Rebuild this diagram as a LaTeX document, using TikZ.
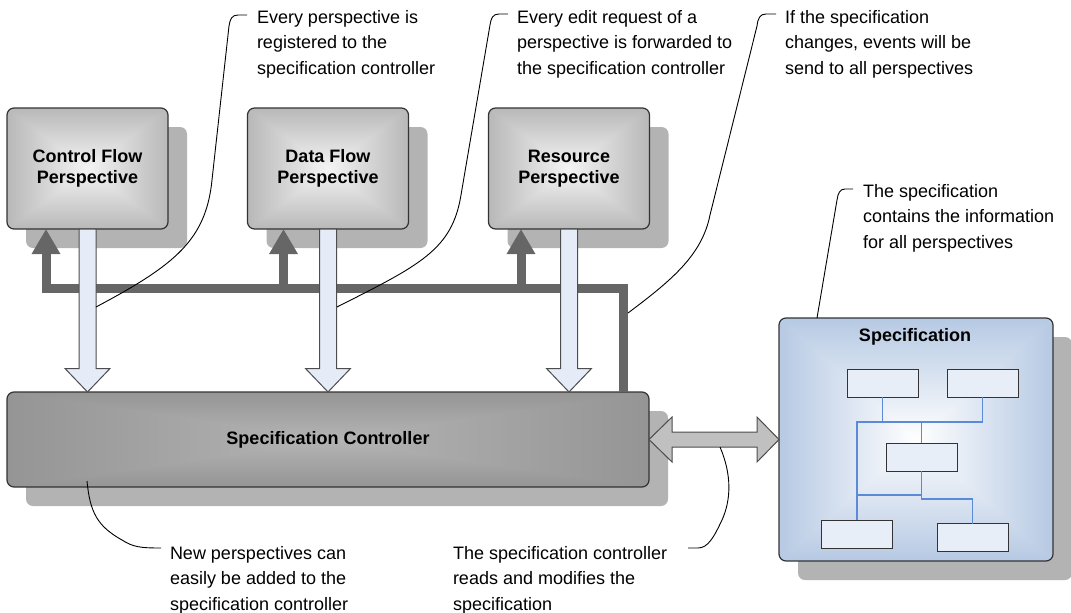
\documentclass[tikz,border=0pt]{standalone}
\usepackage{fontspec}
\setmainfont{Liberation Sans}
\usetikzlibrary{calc,shadows,arrows.meta}

\definecolor{shadowgray}{HTML}{B3B3B3}
\definecolor{busgray}{HTML}{666666}
\definecolor{feedfill}{HTML}{E6ECF7}
\definecolor{edgegray}{HTML}{333333}
\definecolor{arrowedge}{HTML}{4D4D4D}
\definecolor{wireblue}{HTML}{5B8BD6}
\definecolor{innerfill}{HTML}{E8EEF8}
\definecolor{dblfill}{HTML}{C0C0C0}

% rectangular glow: colour depends on max(|dx|,|dy|) from the centre
\pgfdeclarefunctionalshading{perspglow}{\pgfpointorigin}{\pgfpoint{100bp}{100bp}}{}{
  50 sub abs exch 50 sub abs
  2 copy lt {exch} if pop
  25 div dup 1 gt {pop 1} if
  -0.235 mul 0.957 add dup dup
}
\pgfdeclarefunctionalshading{ctlglow}{\pgfpointorigin}{\pgfpoint{100bp}{100bp}}{}{
  50 sub abs exch 50 sub abs
  2 copy lt {exch} if pop
  25 div dup 1 gt {pop 1} if
  -0.122 mul 0.706 add dup dup
}
\pgfdeclarefunctionalshading{specglow}{\pgfpointorigin}{\pgfpoint{100bp}{100bp}}{}{
  50 sub abs exch 50 sub abs
  2 copy lt {exch} if pop
  25 div dup 1 gt {pop 1} if
  dup dup
  -0.286 mul 1 add
  3 1 roll
  -0.212 mul 1 add
  exch
  -0.110 mul 1 add
}

\newcommand\calloutfont{\fontsize{18}{25.5}\selectfont}
\newcommand\boxfont{\fontsize{18}{21}\selectfont\bfseries}

% fat downward feed arrow from a perspective to the controller
\newcommand\feedarrow[2]{%
  \filldraw[feed] let \p1=(#1.south), \p2=(#2.north) in
    (\x1-8.5pt,\y1) -- (\x1-8.5pt,\y2+23.5pt) -- (\x1-22.5pt,\y2+23.5pt)
    -- (\x1,\y2) -- (\x1+22.5pt,\y2+23.5pt) -- (\x1+8.5pt,\y2+23.5pt)
    -- (\x1+8.5pt,\y1) -- cycle;}

\tikzset{
  boxshadow/.style={general shadow={fill=shadowgray, shadow xshift=19pt, shadow yshift=-19pt}},
  persp/.style={draw=edgegray, line width=1.2pt, rounded corners=7pt, shade, shading=perspglow,
    minimum width=161pt, minimum height=121pt, inner sep=0pt, outer sep=0pt,
    align=center, font=\boxfont, boxshadow},
  ctlbox/.style={draw=edgegray, line width=1.2pt, rounded corners=7pt, shade, shading=ctlglow,
    minimum width=642pt, minimum height=95pt, inner sep=0pt, outer sep=0pt,
    font=\boxfont, boxshadow},
  specbox/.style={draw=edgegray, line width=1.2pt, rounded corners=7pt, shade, shading=specglow,
    minimum width=274pt, minimum height=243pt, inner sep=0pt, outer sep=0pt, boxshadow},
  item/.style={draw=edgegray, fill=innerfill, line width=1pt, minimum width=71pt,
    minimum height=28pt, inner sep=0pt, outer sep=0pt},
  wire/.style={draw=wireblue, line width=1.3pt},
  feed/.style={fill=feedfill, draw=arrowedge, line width=1pt, line join=miter},
  bus/.style={draw=busgray, line width=9pt, -{Triangle[width=27pt,length=25pt]}},
  dblarrow/.style={fill=dblfill, draw=arrowedge, line width=1pt, line join=miter},
  callout/.style={draw=black, line width=0.9pt},
  note/.style={anchor=north west, inner sep=0pt, outer sep=0pt, align=left, font=\calloutfont}
}

\begin{document}
\begin{tikzpicture}[x=1pt,y=-1pt]
\useasboundingbox (0,0) rectangle (1071,613);

% perspectives
\node[persp] (cf) at (87.5,168.5) {Control Flow\\Perspective};
\node[persp] (df) at (328,168.5) {Data Flow\\Perspective};
\node[persp] (rp) at (569,168.5) {Resource\\Perspective};

% controller
\node[ctlbox] (ctl) at (328,439.5) {Specification Controller};

% specification with its inner structure
\node[specbox] (spec) at (916,439.5) {};
\node[font=\boxfont, inner sep=0pt] (spectitle) at (915,337) {Specification};
\node[item] (sb1) at (882.5,383) {};
\node[item] (sb2) at (982.5,383) {};
\node[item] (sb3) at (921.5,457) {};
\node[item] (sb4) at (857,534) {};
\node[item] (sb5) at (972.5,537.5) {};
\coordinate (ya) at (0,422);
\coordinate (yb) at (0,495);
\coordinate (yc) at (0,499);
\draw[wire] (sb1.south) -- (sb1.south |- ya);
\draw[wire] (sb2.south) -- (sb2.south |- ya) -- (sb4.north |- ya) -- (sb4.north);
\draw[wire] (sb3.north) -- (sb3.north |- ya);
\draw[wire] (sb3.south) -- (sb3.south |- yc) -- (sb5.north |- yc) -- (sb5.north);
\draw[wire] (sb3.south |- yb) -- (sb4.north |- yb);

% event bus from the controller back to every perspective
\coordinate (busknee) at (623.5,288.5);
\coordinate (cfin) at ($(cf.south west)+(39,0)$);
\coordinate (dfin) at ($(df.south west)+(36,0)$);
\coordinate (rpin) at ($(rp.south west)+(32.5,0)$);
\draw[bus] (busknee |- ctl.north) -- (busknee) -| (cfin);
\draw[bus] (dfin |- busknee) -- (dfin);
\draw[bus] (rpin |- busknee) -- (rpin);

% edit requests forwarded to the controller
\feedarrow{cf}{ctl}
\feedarrow{df}{ctl}
\feedarrow{rp}{ctl}

% controller reads and modifies the specification
\filldraw[dblarrow] let \p1=(ctl.east), \p2=(spec.west) in
  (\x1,\y1) -- (\x1+23pt,\y1+22.5pt) -- (\x1+23pt,\y1+7.5pt) -- (\x2-22pt,\y1+7.5pt)
  -- (\x2-22pt,\y1+22.5pt) -- (\x2,\y2) -- (\x2-22pt,\y1-22.5pt) -- (\x2-22pt,\y1-7.5pt)
  -- (\x1+23pt,\y1-7.5pt) -- (\x1+23pt,\y1-22.5pt) -- cycle;

% annotations
\node[note] (t1) at (257,10) {Every perspective is\\registered to the\\specification controller};
\node[note] (t2) at (517,10) {Every edit request of a\\perspective is forwarded to\\the specification controller};
\node[note] (t3) at (785,10) {If the specification\\changes, events will be\\send to all perspectives};
\node[note] (t4) at (863,184) {The specification\\contains the information\\for all perspectives};
\node[note] (t5) at (170,546) {New perspectives can\\easily be added to the\\specification controller};
\node[note] (t6) at (453,546) {The specification controller\\reads and modifies the\\specification};

\coordinate (k1) at (247,15);
\coordinate (e1) at (96,307);
\draw[callout] (k1) -- (238,15) .. controls (232,15) and (230,19) .. (229,26)
  -- (212,180) .. controls (206,240) and (175,265) .. (e1);

\coordinate (k2) at (508,14);
\coordinate (e2) at (337,307);
\draw[callout] (k2) -- (499,14) .. controls (493,14) and (491,18) .. (490,25)
  -- (461,195) .. controls (452,250) and (420,265) .. (e2);

\coordinate (k3) at (776,14);
\coordinate (e3) at (628,313);
\draw[callout] (k3) -- (766,14) .. controls (760,14) and (758,18) .. (757,26)
  -- (710,215) .. controls (702,255) and (672,280) .. (e3);

\coordinate (k4) at (853,189);
\coordinate (e4) at (817,318);
\draw[callout] (k4) -- (845,189) .. controls (840,189) and (838,193) .. (837,200) -- (e4);

\coordinate (s5) at (87,481);
\coordinate (k5) at (161,548);
\draw[callout] (s5) .. controls (90,512) and (97,526) .. (122,540)
  .. controls (133,547) and (140,548) .. (k5);

\coordinate (s6) at (720,447);
\coordinate (k6) at (688,548);
\draw[callout] (s6) .. controls (732,475) and (731,500) .. (722,520)
  .. controls (714,537) and (708,548) .. (698,548) -- (k6);
\end{tikzpicture}
\end{document}
